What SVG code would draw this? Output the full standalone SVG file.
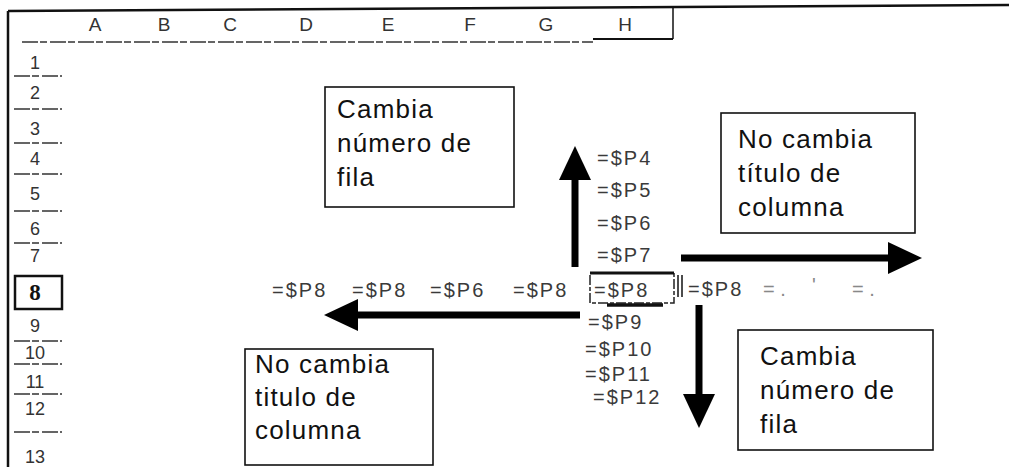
<svg xmlns="http://www.w3.org/2000/svg" width="1009" height="467" viewBox="0 0 1009 467">
<style>
  .frame{fill:none;stroke:#111;stroke-width:2.5}
  .grid{fill:none;stroke:#333;stroke-width:1.4;stroke-dasharray:16 2 7 3}
  .hdr{font-family:"Liberation Sans",Arial,sans-serif;font-size:18px;fill:#333;text-anchor:middle}
  .col{font-size:19px}
  .cell{font-family:"Liberation Sans",Arial,sans-serif;font-size:20px;letter-spacing:2px;fill:#3a3a3a}
  .faint{font-family:"Liberation Sans",Arial,sans-serif;font-size:20px;fill:#888}
  .box rect{fill:#fff;stroke:#111;stroke-width:1.6}
  .box text{font-family:"Liberation Sans",Arial,sans-serif;font-size:26px;letter-spacing:1.2px;fill:#111}
  .shaft{stroke:#000;stroke-width:7;fill:none;marker-end:url(#head)}
</style>
<defs>
  <marker id="head" markerUnits="userSpaceOnUse" markerWidth="34" markerHeight="32" refX="0" refY="16" orient="auto" overflow="visible">
    <path d="M0,0 L34,16 L0,32 Z" fill="#000"/>
  </marker>
</defs>
<rect width="1009" height="467" fill="#fff"/>

<g id="sheet-frame">
  <line x1="8" y1="11" x2="1009" y2="5" class="frame"/>
  <line x1="8" y1="11" x2="8" y2="467" class="frame"/>
  <line x1="22" y1="42" x2="593" y2="42" class="grid"/>
  <line x1="593" y1="39" x2="673" y2="39" stroke="#111" stroke-width="2"/>
  <line x1="673" y1="6" x2="673" y2="39" stroke="#111" stroke-width="1.5"/>
</g>

<g id="column-headers">
  <text class="hdr col" x="95" y="31">A</text>
  <text class="hdr col" x="164" y="31">B</text>
  <text class="hdr col" x="230" y="31">C</text>
  <text class="hdr col" x="306" y="31">D</text>
  <text class="hdr col" x="388" y="31">E</text>
  <text class="hdr col" x="470" y="31">F</text>
  <text class="hdr col" x="546" y="31">G</text>
  <text class="hdr col" x="625" y="31">H</text>
</g>

<g id="row-headers">
  <g class="grid">
    <line x1="14" y1="76" x2="62" y2="76"/>
    <line x1="14" y1="109" x2="62" y2="109"/>
    <line x1="14" y1="143" x2="62" y2="143"/>
    <line x1="14" y1="174" x2="62" y2="174"/>
    <line x1="14" y1="211" x2="62" y2="211"/>
    <line x1="14" y1="243" x2="62" y2="243"/>
    <line x1="14" y1="341" x2="62" y2="341"/>
    <line x1="14" y1="364" x2="62" y2="364"/>
    <line x1="14" y1="394" x2="62" y2="394"/>
    <line x1="14" y1="432" x2="62" y2="432"/>
  </g>
  <rect x="15" y="276" width="47" height="33" fill="none" stroke="#111" stroke-width="2.5"/>
  <text class="hdr" x="35" y="69">1</text>
  <text class="hdr" x="35" y="99">2</text>
  <text class="hdr" x="35" y="135">3</text>
  <text class="hdr" x="35" y="165">4</text>
  <text class="hdr" x="35" y="200">5</text>
  <text class="hdr" x="35" y="235">6</text>
  <text class="hdr" x="35" y="262">7</text>
  <text x="35" y="300" font-family="'Liberation Serif',serif" font-weight="bold" font-size="23" text-anchor="middle" fill="#111">8</text>
  <text class="hdr" x="35" y="332">9</text>
  <text class="hdr" x="35" y="359">10</text>
  <text class="hdr" x="35" y="388">11</text>
  <text class="hdr" x="35" y="415">12</text>
  <text class="hdr" x="35" y="463">13</text>
</g>

<g id="cells">
  <text class="cell" x="597" y="165">=$P4</text>
  <text class="cell" x="597" y="197">=$P5</text>
  <text class="cell" x="597" y="230">=$P6</text>
  <text class="cell" x="597" y="262">=$P7</text>
  <text class="cell" x="272" y="297">=$P8</text>
  <text class="cell" x="352" y="297">=$P8</text>
  <text class="cell" x="430" y="297">=$P6</text>
  <text class="cell" x="513" y="297">=$P8</text>
  <text class="cell" x="594" y="297">=$P8</text>
  <text class="cell" x="688" y="296">=$P8</text>
  <text class="faint" x="763" y="296">= .</text>
  <text class="faint" x="812" y="292">'</text>
  <text class="faint" x="852" y="296">= .</text>
  <text class="cell" x="588" y="329">=$P9</text>
  <text class="cell" x="585" y="356">=$P10</text>
  <text class="cell" x="585" y="381">=$P11</text>
  <text class="cell" x="593" y="404" fill="#777">=$P12</text>
</g>

<g id="active-cell">
  <rect x="590" y="273" width="84" height="30" fill="none" stroke="#222" stroke-width="1.5" stroke-dasharray="10 2 4 2"/>
  <line x1="590" y1="273" x2="674" y2="273" stroke="#111" stroke-width="3"/>
  <line x1="607" y1="305" x2="663" y2="305" stroke="#111" stroke-width="3.5"/>
  <line x1="678" y1="275" x2="678" y2="297" stroke="#111" stroke-width="1.5"/>
  <line x1="682" y1="275" x2="682" y2="297" stroke="#111" stroke-width="1.5"/>
</g>

<g id="connectors">
  <line class="shaft" x1="575" y1="267" x2="575" y2="180"/>
  <line class="shaft" x1="681" y1="258" x2="888" y2="258"/>
  <line class="shaft" x1="580" y1="315" x2="358" y2="315"/>
  <line class="shaft" x1="699" y1="305" x2="699" y2="394"/>
</g>

<g id="box-cambia-fila-top" class="box">
  <rect x="325" y="87" width="189" height="120"/>
  <text x="337" y="118">Cambia</text>
  <text x="337" y="152">número de</text>
  <text x="337" y="186">fila</text>
</g>

<g id="box-nocambia-columna-right" class="box">
  <rect x="721" y="113" width="194" height="120"/>
  <text x="738" y="148">No cambia</text>
  <text x="738" y="182">título de</text>
  <text x="738" y="216">columna</text>
</g>

<g id="box-nocambia-columna-left" class="box">
  <rect x="245" y="349" width="188" height="116"/>
  <text x="255" y="373">No cambia</text>
  <text x="255" y="406">titulo de</text>
  <text x="255" y="439">columna</text>
</g>

<g id="box-cambia-fila-bottom" class="box">
  <rect x="738" y="330" width="195" height="120"/>
  <text x="760" y="365">Cambia</text>
  <text x="760" y="399">número de</text>
  <text x="760" y="433">fila</text>
</g>
</svg>
